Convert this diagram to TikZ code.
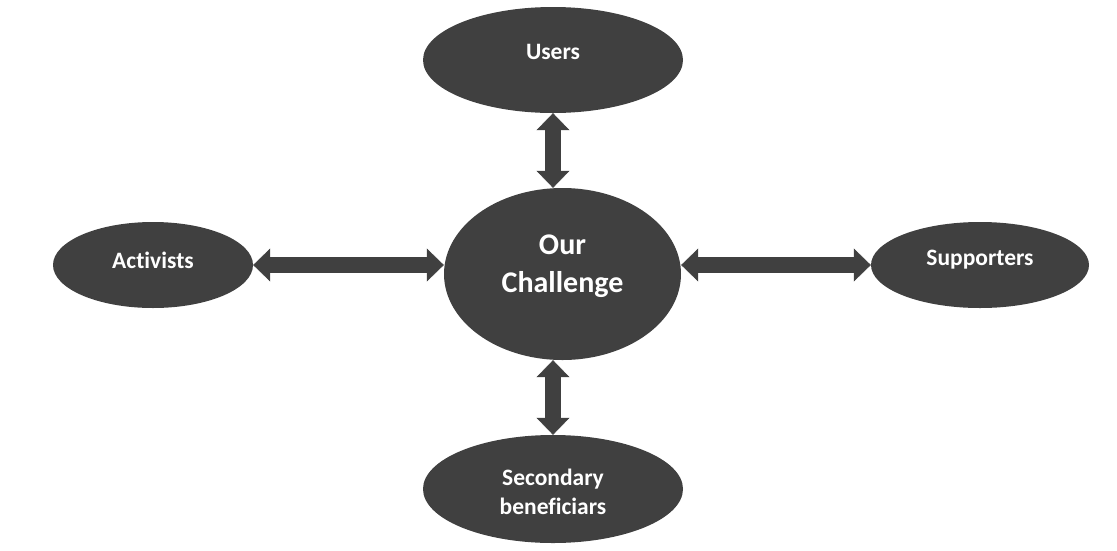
\documentclass[tikz,border=0pt]{standalone}
\usepackage{fontspec}
\setmainfont{Carlito}[Ligatures=NoCommon]
\usetikzlibrary{shapes.geometric,arrows.meta}
\definecolor{dk}{HTML}{404040}
\begin{document}
\begin{tikzpicture}[x=1pt,y=-1pt,
  ell/.style={ellipse, fill=dk, draw=none, inner sep=0pt},
  txt/.style={text=white, font=\bfseries\fontsize{23.5}{29}\selectfont, align=center, inner sep=0pt},
  big/.style={text=white, font=\bfseries\fontsize{30}{38}\selectfont, align=center, inner sep=0pt},
  dbl/.style={draw=dk, line width=16pt, {Triangle[width=33pt,length=17pt,line width=0.5pt]}-{Triangle[width=33pt,length=17pt,line width=0.5pt]}}]
\useasboundingbox (0,0) rectangle (1117,550);
\node[ell, minimum width=237, minimum height=172,
      label={[big, yshift=8]center:Our\\Challenge}] (c) at (562.5,274) {};
\node[ell, minimum width=260, minimum height=106,
      label={[txt, yshift=8]center:Users}] (u) at (553,60) {};
\node[ell, minimum width=260, minimum height=108,
      label={[txt, yshift=-3]center:Secondary\\beneficiars}] (b) at (553,489) {};
\node[ell, minimum width=200, minimum height=86,
      label={[txt, yshift=5]center:Activists}] (a) at (153,265) {};
\node[ell, minimum width=218, minimum height=86,
      label={[txt, yshift=5]center:Supporters}] (s) at (980,265) {};
\draw[dbl] (u.south) -- (u.south |- c.north);
\draw[dbl] (b.north |- c.south) -- (b.north);
\draw[dbl] (a.east) -- (a.east -| c.west);
\draw[dbl] (s.west -| c.east) -- (s.west);
\end{tikzpicture}
\end{document}
